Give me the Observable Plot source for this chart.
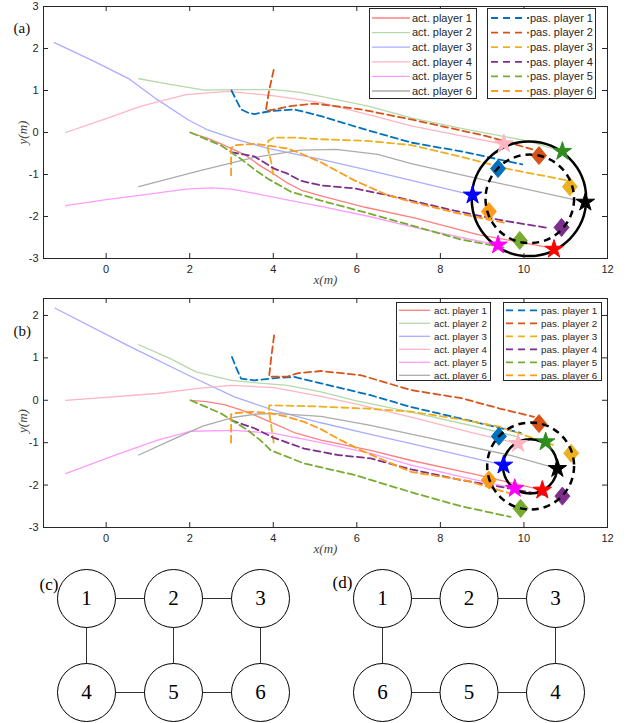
<!DOCTYPE html>
<html><head><meta charset="utf-8">
<script src="https://cdn.jsdelivr.net/npm/d3@7"></script>
<script src="https://cdn.jsdelivr.net/npm/@observablehq/plot@0.6"></script>
<style>
body{margin:0;background:#fff;}
#root{position:relative;width:627px;height:723px;overflow:hidden;background:#fff;}
.abs{position:absolute;}
</style></head><body><div id="root"></div>
<script>
// ---------- shared labels / ticks / colours ----------
const xTicks = [0, 2, 4, 6, 8, 10, 12];
const yTicksA = [-3, -2, -1, 0, 1, 2, 3];
const yTicksB = [-3, -2, -1, 0, 1, 2];
const actLabels = ["act. player 1","act. player 2","act. player 3","act. player 4","act. player 5","act. player 6"];
const pasLabels = ["pas. player 1","pas. player 2","pas. player 3","pas. player 4","pas. player 5","pas. player 6"];
const actColors = ["#ff7f7f","#b5d9aa","#a9adff","#ffb5c4","#ff9cff","#ababab"];
const pasColors = ["#0072bd","#d95319","#edb120","#7e2f8e","#77ac30","#ff9b17"];
const starColors = ["#ff0000","#2f8c1f","#0000ff","#ffb6c1","#ff00ff","#000000"];

// ---------- panel (a): active players ----------
const a_act1 = [[2.0,0.0],[2.4,-0.13],[2.75,-0.27],[3.3,-0.52],[3.7,-0.8],[4.0,-0.98],[4.3,-1.18],[4.66,-1.37],[5.14,-1.51],[6.2,-1.78],[7.4,-2.04],[8.9,-2.43],[10.72,-2.76]];
const a_act2 = [[0.78,1.28],[1.5,1.15],[2.35,1.01],[3.0,1.02],[4.02,1.02],[4.6,0.96],[5.14,0.86],[6.3,0.62],[7.3,0.35],[8.5,0.1],[10.08,-0.2],[10.92,-0.45]];
const a_act3 = [[-1.24,2.14],[-0.3,1.7],[0.56,1.27],[1.2,0.8],[1.95,0.31],[2.43,0.06],[3.07,-0.15],[3.87,-0.38],[5.14,-0.64],[6.5,-0.95],[7.3,-1.14],[8.77,-1.49]];
const a_act4 = [[-0.97,0.0],[0.0,0.33],[0.84,0.63],[1.91,0.9],[2.91,0.98],[4.02,0.87],[5.14,0.71],[6.3,0.42],[7.3,0.16],[8.5,-0.08],[9.52,-0.28]];
const a_act5 = [[-0.97,-1.74],[0.0,-1.6],[0.84,-1.49],[1.91,-1.35],[2.51,-1.32],[3.0,-1.35],[3.55,-1.45],[4.3,-1.6],[5.14,-1.76],[6.3,-2.0],[7.3,-2.24],[8.5,-2.5],[9.38,-2.68]];
const a_act6 = [[0.78,-1.29],[2.27,-0.9],[3.55,-0.59],[4.66,-0.42],[5.5,-0.4],[6.5,-0.52],[7.3,-0.74],[9.28,-1.18],[11.47,-1.66]];
// ---------- panel (a): passive players ----------
const a_pas1 = [[3.0,1.0],[3.1,0.8],[3.23,0.55],[3.4,0.47],[3.55,0.44],[3.94,0.51],[4.5,0.55],[5.14,0.39],[6.17,0.08],[7.3,-0.24],[8.5,-0.45],[9.96,-0.76]];
const a_pas2 = [[4.01,1.49],[3.9,1.0],[3.82,0.51],[4.1,0.56],[4.42,0.63],[4.98,0.69],[6.1,0.55],[7.3,0.31],[9.08,-0.08],[10.2,-0.4]];
const a_pas3 = [[4.0,-1.0],[3.95,-0.7],[3.87,-0.39],[3.88,-0.2],[4.02,-0.12],[4.5,-0.12],[5.14,-0.16],[6.25,-0.2],[7.3,-0.3],[8.5,-0.58],[9.68,-0.88],[11.04,-1.14]];
const a_pas4 = [[2.99,-0.47],[3.55,-0.57],[4.02,-0.86],[4.34,-0.98],[4.66,-1.15],[5.14,-1.26],[5.94,-1.33],[6.73,-1.49],[7.3,-1.62],[8.33,-1.86],[9.52,-2.1],[10.56,-2.27]];
const a_pas5 = [[2.02,0.0],[2.75,-0.31],[3.23,-0.63],[3.55,-0.88],[3.87,-1.1],[4.42,-1.41],[5.14,-1.62],[6.3,-1.93],[7.41,-2.24],[8.49,-2.55],[9.6,-2.75]];
const a_pas6 = [[2.99,-1.02],[2.99,-0.37],[3.1,-0.3],[3.55,-0.27],[3.87,-0.31],[4.34,-0.38],[4.66,-0.5],[5.14,-0.71],[5.94,-1.14],[6.73,-1.49],[7.3,-1.65],[8.49,-1.94],[9.6,-2.16]];
const a_stars = [[10.72,-2.78],[10.92,-0.45],[8.77,-1.49],[9.52,-0.27],[9.38,-2.68],[11.47,-1.66]];
const a_diamonds = [[9.38,-0.86],[10.36,-0.55],[11.1,-1.29],[10.9,-2.26],[9.9,-2.57],[9.16,-1.88]];
const a_circleSolid = [10.12, -1.58, 1.37];
const a_circleDashed = [10.14, -1.58, 1.06];

// ---------- panel (b): active players ----------
const b_act1 = [[2.02,0.0],[2.4,-0.03],[2.83,-0.1],[3.2,-0.22],[3.55,-0.35],[4.02,-0.55],[4.5,-0.76],[5.14,-0.94],[6.33,-1.18],[7.3,-1.42],[8.89,-1.76],[10.44,-2.12]];
const b_act2 = [[0.78,1.31],[1.5,1.0],[2.15,0.67],[2.99,0.47],[3.5,0.42],[4.34,0.35],[5.14,0.2],[5.94,0.0],[7.3,-0.28],[8.89,-0.63],[9.84,-0.86]];
const b_act3 = [[-1.22,2.17],[0.56,1.27],[2.03,0.56],[3.07,0.08],[4.02,-0.24],[5.14,-0.53],[6.3,-0.8],[7.3,-1.02],[9.51,-1.53]];
const b_act4 = [[-0.97,0.0],[1.23,0.16],[2.2,0.28],[2.99,0.35],[4.02,0.3],[5.14,0.09],[5.94,-0.08],[7.3,-0.4],[8.7,-0.75],[9.86,-1.02]];
const b_act5 = [[-0.97,-1.73],[0.2,-1.3],[1.23,-0.94],[2.03,-0.73],[3.07,-0.71],[4.02,-0.78],[5.14,-1.0],[6.33,-1.25],[7.3,-1.53],[8.7,-1.85],[9.78,-2.08]];
const b_act6 = [[0.78,-1.29],[1.6,-0.92],[2.31,-0.61],[3.07,-0.4],[3.55,-0.33],[4.02,-0.31],[5.14,-0.38],[6.33,-0.59],[7.3,-0.8],[9.68,-1.3],[10.8,-1.61]];
// ---------- panel (b): passive players ----------
const b_pas1 = [[3.01,1.02],[3.12,0.75],[3.23,0.51],[3.55,0.47],[4.1,0.53],[4.5,0.55],[5.14,0.4],[6.33,0.12],[7.3,-0.16],[8.7,-0.48],[9.92,-0.77]];
const b_pas2 = [[4.02,1.53],[3.95,1.0],[3.9,0.56],[4.34,0.56],[4.6,0.64],[5.14,0.69],[6.1,0.59],[7.3,0.24],[8.5,0.05],[9.44,-0.2],[10.24,-0.39]];
const b_pas3 = [[4.01,-1.0],[3.95,-0.6],[3.9,-0.27],[3.9,-0.12],[4.5,-0.13],[5.14,-0.15],[6.33,-0.2],[7.3,-0.27],[8.5,-0.45],[9.44,-0.63],[10.24,-0.9],[10.72,-1.06]];
const b_pas4 = [[2.99,-0.47],[3.55,-0.66],[4.0,-0.88],[4.74,-1.14],[5.54,-1.29],[6.33,-1.37],[7.3,-1.63],[8.5,-1.88],[9.44,-2.04],[10.6,-2.25]];
const b_pas5 = [[2.02,0.0],[2.75,-0.31],[3.39,-0.71],[3.7,-0.95],[3.94,-1.18],[4.74,-1.49],[5.94,-1.76],[7.41,-2.2],[8.5,-2.5],[9.68,-2.75]];
const b_pas6 = [[2.99,-1.0],[2.99,-0.33],[3.1,-0.3],[3.55,-0.27],[3.94,-0.31],[4.3,-0.38],[4.74,-0.51],[5.14,-0.68],[5.54,-0.9],[6.1,-1.18],[6.73,-1.45],[7.3,-1.69],[8.65,-1.9],[9.68,-2.2]];
const b_stars = [[10.44,-2.12],[10.52,-0.98],[9.51,-1.53],[9.86,-1.02],[9.78,-2.08],[10.8,-1.61]];
const b_diamonds = [[9.4,-0.85],[10.36,-0.55],[11.13,-1.25],[10.92,-2.26],[9.92,-2.55],[9.16,-1.88]];
const b_circleSolid = [10.15, -1.56, 0.65];
const b_circleDashed = [10.16, -1.55, 1.04];

// ---------- panels (c), (d): communication graphs ----------
const c_labels = [1, 2, 3, 4, 5, 6];
const d_labels = [1, 2, 3, 6, 5, 4];
const nodeCols = [0, 1, 2, 0, 1, 2];
const nodeRows = [0, 0, 0, 1, 1, 1];
const c_edges = [[1,2],[2,3],[1,4],[2,5],[3,6],[4,5],[5,6]];
const d_edges = [[1,2],[2,3],[1,6],[3,4],[6,5],[5,4]];

// ---------- drawing ----------
const root = document.getElementById("root");
const diamondSymbol = {draw(ctx, size) {
  const r = Math.sqrt(size / Math.PI), w = r, h = r * 1.2;
  ctx.moveTo(0, -h); ctx.lineTo(w, 0); ctx.lineTo(0, h); ctx.lineTo(-w, 0); ctx.closePath();
}};
const axisColor = "#262626";
const sansFont = "'Liberation Sans', Arial, Helvetica, sans-serif";
const serifFont = "'Liberation Serif', 'Times New Roman', serif";

function place(node, left, top) {
  node.classList.add("abs");
  node.style.left = left + "px"; node.style.top = top + "px";
  root.appendChild(node);
}

function trajPanel(cfg) {
  const W = 627, mL = 43, mR = 20, xDom = [-1.5, 12];
  const plotW = W - mL - mR, plotH = cfg.height - cfg.marginTop - cfg.marginBottom;
  const ppu = plotW / (xDom[1] - xDom[0]);
  const marks = [];
  cfg.act.forEach((t, i) => marks.push(Plot.line(t, {x: d => d[0], y: d => d[1], stroke: actColors[i], strokeWidth: 1.3})));
  cfg.pas.forEach((t, i) => marks.push(Plot.line(t, {x: d => d[0], y: d => d[1], stroke: pasColors[i], strokeWidth: 1.8, strokeDasharray: "7,4"})));
  const dia = cfg.diamonds.map((p, i) => ({x: p[0], y: p[1], c: pasColors[i]}));
  const st = cfg.stars.map((p, i) => ({x: p[0], y: p[1], c: starColors[i]}));
  marks.push(Plot.dot(dia, {x: "x", y: "y", fill: "c", stroke: "c", symbol: diamondSymbol, r: 7.5, strokeWidth: 1}));
  marks.push(Plot.dot([cfg.circleDashed], {x: d => d[0], y: d => d[1], r: d => d[2], fill: "none", stroke: "#000", strokeWidth: 2.5, strokeDasharray: "7,5"}));
  marks.push(Plot.dot([cfg.circleSolid], {x: d => d[0], y: d => d[1], r: d => d[2], fill: "none", stroke: "#000", strokeWidth: 2.5}));
  marks.push(Plot.dot(st, {x: "x", y: "y", fill: "c", stroke: "c", symbol: "star", r: 5.8, strokeWidth: 1}));
  marks.push(Plot.frame({stroke: axisColor, strokeWidth: 1}));
  marks.push(Plot.ruleX(xTicks, {stroke: axisColor, insetTop: plotH - 5}));
  marks.push(Plot.ruleX(xTicks, {stroke: axisColor, insetBottom: plotH - 5}));
  marks.push(Plot.ruleY(cfg.yTicks, {stroke: axisColor, insetRight: plotW - 5}));
  marks.push(Plot.ruleY(cfg.yTicks, {stroke: axisColor, insetLeft: plotW - 5}));
  marks.push(Plot.axisX({ticks: xTicks, tickSize: 0, tickPadding: 7, label: null, tickFormat: d => String(d)}));
  marks.push(Plot.axisY({ticks: cfg.yTicks, tickSize: 0, tickPadding: 5, label: null, tickFormat: d => String(d)}));
  marks.push(Plot.text(["x(m)"], {text: d => d, frameAnchor: "bottom", dy: 25, fontFamily: serifFont, fontStyle: "italic", fontSize: 13, fill: "#444"}));
  marks.push(Plot.text(["y(m)"], {text: d => d, frameAnchor: "left", textAnchor: "middle", dx: -21, dy: cfg.yLabelDy, rotate: -90, fontFamily: serifFont, fontStyle: "italic", fontSize: 13, fill: "#444"}));
  marks.push(Plot.text([cfg.tag], {text: d => d, frameAnchor: "top-left", textAnchor: "start", dx: -30, dy: cfg.tagDy, fontFamily: serifFont, fontSize: 15, fill: "#111"}));
  return Plot.plot({
    width: W, height: cfg.height,
    marginLeft: mL, marginRight: mR, marginTop: cfg.marginTop, marginBottom: cfg.marginBottom,
    x: {domain: xDom}, y: {domain: cfg.yDom},
    r: {type: "linear", domain: [0, 1], range: [0, ppu]},
    color: {type: "identity"},
    style: {fontFamily: sansFont, fontSize: "11px", color: axisColor, background: "transparent"},
    marks
  });
}

function legendBox(cfg) {
  const svg = d3.create("svg").attr("width", cfg.w).attr("height", cfg.h);
  svg.append("rect").attr("x", 0.5).attr("y", 0.5).attr("width", cfg.w - 1).attr("height", cfg.h - 1)
    .attr("fill", "#fff").attr("stroke", axisColor).attr("stroke-width", 1);
  cfg.labels.forEach((lab, i) => {
    const y = cfg.row0 + i * cfg.step;
    svg.append("line").attr("x1", cfg.lx1).attr("x2", cfg.lx2).attr("y1", y).attr("y2", y)
      .attr("stroke", cfg.colors[i]).attr("stroke-width", cfg.dashed ? 1.8 : 1.3)
      .attr("stroke-dasharray", cfg.dashed ? "7,5" : null);
    svg.append("text").attr("x", cfg.tx).attr("y", y).attr("dy", "0.35em")
      .attr("font-family", sansFont).attr("font-size", cfg.fs).attr("fill", axisColor).text(lab);
  });
  place(svg.node(), cfg.left, cfg.top);
}

function graphPanel(cfg) {
  const nodes = cfg.labels.map((l, i) => ({l, x: nodeCols[i], y: nodeRows[i]}));
  const pos = new Map(nodes.map(n => [n.l, n]));
  return Plot.plot({
    width: cfg.width, height: 161,
    marginLeft: cfg.marginLeft, marginRight: cfg.marginRight, marginTop: 36, marginBottom: 31,
    x: {domain: [0, 2], axis: null}, y: {domain: [0, 1], reverse: true, axis: null},
    style: {background: "transparent"},
    marks: [
      Plot.link(cfg.edges, {x1: e => pos.get(e[0]).x, y1: e => pos.get(e[0]).y, x2: e => pos.get(e[1]).x, y2: e => pos.get(e[1]).y, stroke: "#333", strokeWidth: 1}),
      Plot.dot(nodes, {x: "x", y: "y", r: 29, fill: "white", stroke: "#000", strokeWidth: 1}),
      Plot.text(nodes, {x: "x", y: "y", text: "l", fontSize: 21, fontFamily: serifFont, fill: "#000"}),
      Plot.text([cfg.tag], {text: d => d, frameAnchor: "top-left", textAnchor: "start", dx: cfg.tagDx, dy: cfg.tagDy, fontSize: 17, fontFamily: serifFont, fill: "#000"})
    ]
  });
}

// panel (a)
place(trajPanel({act: [a_act1,a_act2,a_act3,a_act4,a_act5,a_act6], pas: [a_pas1,a_pas2,a_pas3,a_pas4,a_pas5,a_pas6],
  stars: a_stars, diamonds: a_diamonds, circleSolid: a_circleSolid, circleDashed: a_circleDashed,
  yDom: [-3, 3], yTicks: yTicksA, height: 290, marginTop: 6, marginBottom: 32, tag: "(a)", tagDy: 16, yLabelDy: 0}), 0, 0);
legendBox({left: 369, top: 8, w: 108, h: 91, row0: 10, step: 14.6, lx1: 3, lx2: 41, tx: 43, fs: 11, labels: actLabels, colors: actColors, dashed: false});
legendBox({left: 487, top: 8, w: 109, h: 91, row0: 10, step: 14.6, lx1: 4, lx2: 42, tx: 43, fs: 11, labels: pasLabels, colors: pasColors, dashed: true});

// panel (b)
place(trajPanel({act: [b_act1,b_act2,b_act3,b_act4,b_act5,b_act6], pas: [b_pas1,b_pas2,b_pas3,b_pas4,b_pas5,b_pas6],
  stars: b_stars, diamonds: b_diamonds, circleSolid: b_circleSolid, circleDashed: b_circleDashed,
  yDom: [-3, 2.4], yTicks: yTicksB, height: 272, marginTop: 8, marginBottom: 35, tag: "(b)", tagDy: 27, yLabelDy: 8}), 0, 290);
legendBox({left: 396, top: 302, w: 95, h: 79, row0: 8.3, step: 13, lx1: 3, lx2: 34, tx: 38, fs: 9.7, labels: actLabels, colors: actColors, dashed: false});
legendBox({left: 503, top: 302, w: 99, h: 79, row0: 8.3, step: 13, lx1: 3, lx2: 37, tx: 38, fs: 9.8, labels: pasLabels, colors: pasColors, dashed: true});

// panels (c) and (d)
place(graphPanel({width: 313, marginLeft: 86, marginRight: 53, labels: c_labels, edges: c_edges, tag: "(c)", tagDx: -47, tagDy: -21}), 0, 562);
place(graphPanel({width: 314, marginLeft: 69, marginRight: 72, labels: d_labels, edges: d_edges, tag: "(d)", tagDx: -50, tagDy: -23}), 313, 562);
</script></body></html>
